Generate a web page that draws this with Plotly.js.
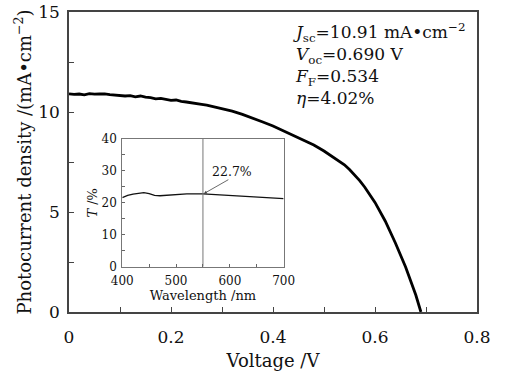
<!DOCTYPE html>
<html><head><meta charset="utf-8">
<script src="https://cdn.plot.ly/plotly-3.0.1.min.js"></script>
<style>html,body{margin:0;padding:0;background:#fff}</style>
</head><body><div id="c"></div>
<script>
const voltage = [0,0.01,0.02,0.03,0.04,0.05,0.06,0.07,0.08,0.09,0.10,0.11,0.12,0.13,0.14,0.15,0.16,0.17,0.18,0.19,0.20,0.21,0.22,0.23,0.24,0.25,0.26,0.27,0.28,0.29,0.30,0.32,0.34,0.36,0.38,0.40,0.42,0.44,0.46,0.48,0.50,0.52,0.54,0.55,0.56,0.57,0.58,0.60,0.62,0.64,0.66,0.67,0.68,0.69];
const current = [10.91,10.88,10.90,10.86,10.92,10.89,10.90,10.91,10.87,10.85,10.84,10.80,10.82,10.76,10.80,10.74,10.72,10.66,10.68,10.62,10.58,10.60,10.53,10.50,10.47,10.44,10.38,10.34,10.28,10.22,10.16,10.04,9.88,9.70,9.50,9.30,9.07,8.82,8.58,8.35,8.05,7.72,7.36,7.12,6.85,6.57,6.24,5.48,4.55,3.45,2.25,1.60,0.85,0.0];
const wavelength = [400,410,420,430,440,450,460,470,480,500,520,550,570,600,630,650,680,700];
const transmission = [21.6,22.3,22.7,22.9,23.2,22.9,22.3,22.2,22.3,22.6,22.8,22.8,22.6,22.2,21.9,21.7,21.5,21.3];
const markWl = 550, markT = 22.7;

const FAM = 'DejaVu Serif';
const axCol = '#444';
const traces = [
  {x: voltage, y: current, type:'scatter', mode:'lines', line:{color:'#000', width:2.8}, xaxis:'x', yaxis:'y', hoverinfo:'skip'},
  {x: wavelength, y: transmission, type:'scatter', mode:'lines', line:{color:'#111', width:1.3}, xaxis:'x2', yaxis:'y2', hoverinfo:'skip'},
  {x: [markWl, markWl], y: [0, 40], type:'scatter', mode:'lines', line:{color:'#777', width:1}, xaxis:'x2', yaxis:'y2', hoverinfo:'skip'}
];
const layout = {
  width:509, height:371, showlegend:false,
  paper_bgcolor:'#fff', plot_bgcolor:'#fff',
  margin:{l:69, r:32, t:12, b:59},
  font:{family:FAM, color:'#111', size:17},
  xaxis:{domain:[0,1], range:[0,0.8], dtick:0.2, tick0:0, ticks:'inside', ticklen:5, tickcolor:axCol,
    showline:true, linecolor:axCol, linewidth:1.5, mirror:true, showgrid:false, zeroline:false,
    minor:{dtick:0.1, ticks:'inside', ticklen:5, tickcolor:axCol, showgrid:false},
    tickfont:{family:FAM, size:17}, ticklabelstandoff:9,
    title:{text:'Voltage /V', font:{family:FAM, size:18}, standoff:8}},
  yaxis:{domain:[0,1], range:[0,15], dtick:5, ticks:'inside', ticklen:5, tickcolor:axCol,
    showline:true, linecolor:axCol, linewidth:1.5, mirror:true, showgrid:false, zeroline:false,
    minor:{dtick:2.5, ticks:'inside', ticklen:5, tickcolor:axCol, showgrid:false},
    tickfont:{family:FAM, size:17}, ticklabelstandoff:4,
    title:{text:'Photocurrent density /(mA\u2022cm<sup>\u22122</sup>)', font:{family:FAM, size:18}, standoff:2}},
  xaxis2:{domain:[0.1306,0.526], anchor:'y2', range:[400,700], dtick:100, ticks:'inside', ticklen:3, tickcolor:'#666',
    showline:true, linecolor:'#777', linewidth:1, mirror:true, showgrid:false, zeroline:false,
    minor:{dtick:50, ticks:'inside', ticklen:3, tickcolor:'#666', showgrid:false},
    tickfont:{family:FAM, size:12}, ticklabelstandoff:3,
    title:{text:'Wavelength /nm', font:{family:FAM, size:13}, standoff:0}},
  yaxis2:{domain:[0.151,0.577], anchor:'x2', range:[0,40], dtick:10, ticks:'inside', ticklen:3, tickcolor:'#666',
    showline:true, linecolor:'#777', linewidth:1, mirror:true, showgrid:false, zeroline:false,
    minor:{dtick:5, ticks:'inside', ticklen:3, tickcolor:'#666', showgrid:false},
    tickfont:{family:FAM, size:12}, ticklabelstandoff:2,
    title:{text:'<i>T</i> /%', font:{family:FAM, size:13}, standoff:1}},
  annotations:[
    {xref:'x2', yref:'y2', x:markWl, y:markT, ax:600, ay:27.5, axref:'x2', ayref:'y2',
     text:'', showarrow:true, arrowhead:2, arrowsize:0.8, arrowwidth:0.8, arrowcolor:'#444', standoff:1},
    {xref:'x2', yref:'y2', x:604, y:29.8, text:'22.7%', showarrow:false, font:{family:FAM, size:12.5}, xanchor:'center', yanchor:'middle'},
    {xref:'paper', yref:'paper', x:0.545, y:0.98, xanchor:'left', yanchor:'top', align:'left', showarrow:false,
     font:{family:FAM, size:17},
     text:'<i>J</i><sub>sc</sub>=10.91 mA\u2022cm<sup>\u22122</sup><br><i>V</i><sub>oc</sub>=0.690 V<br><i>F</i><sub>F</sub>=0.534<br><i>\u03b7</i>=4.02%'}
  ]
};
Plotly.newPlot('c', traces, layout, {displayModeBar:false});
</script></body></html>
